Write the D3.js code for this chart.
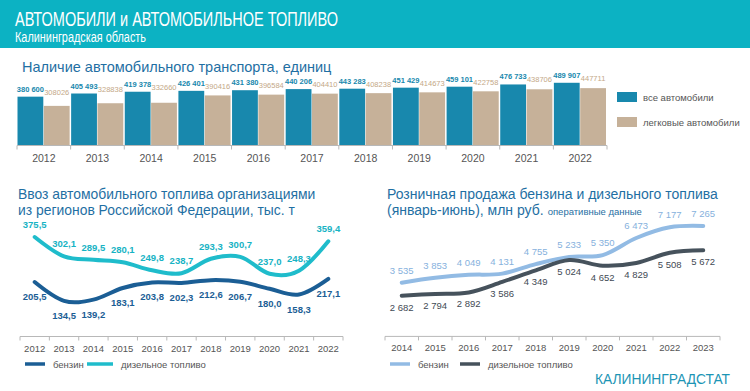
<!DOCTYPE html>
<html>
<head>
<meta charset="utf-8">
<script src="https://cdn.jsdelivr.net/npm/d3@7"></script>
<style>
  body { margin: 0; background: #fff; }
  svg { display: block; font-family: 'Liberation Sans', Arial, sans-serif; }
</style>
</head>
<body>
<svg width="750" height="391"></svg>
<script>
// --- data ---
const barYears = ['2012','2013','2014','2015','2016','2017','2018','2019','2020','2021','2022'];
const allCars = [380600, 405493, 419378, 426401, 431380, 440206, 443283, 451429, 459101, 476733, 489907];
const passengerCars = [308026, 328838, 332660, 390416, 396584, 404410, 408238, 414673, 422758, 438706, 447711];

const importYears = ['2012','2013','2014','2015','2016','2017','2018','2019','2020','2021','2022'];
const importPetrol = [205.5, 134.5, 139.2, 183.1, 203.8, 202.3, 212.6, 206.7, 180.0, 158.3, 217.1];
const importDiesel = [375.5, 302.1, 289.5, 280.1, 249.8, 238.7, 293.3, 300.7, 237.0, 248.3, 359.4];

const retailYears = ['2014','2015','2016','2017','2018','2019','2020','2021','2022','2023'];
const retailPetrol = [3535, 3853, 4049, 4131, 4755, 5233, 5350, 6473, 7177, 7265];
const retailDiesel = [2682, 2794, 2892, 3586, 4349, 5024, 4652, 4829, 5508, 5672];

const teal = '#0cb2c3';
const barBlue = '#1888ad';
const barBeige = '#c6b199';
const titleBlue = '#1f6fa3';
const axisGray = '#b8b8b8';
const textGray = '#555';

const svg = d3.select('svg');
const fmtSpace = v => d3.format(',')(v).replace(/,/g, ' ');
const fmtComma = v => v.toFixed(1).replace('.', ',');

// --- header ---
svg.append('rect').attr('x', 0).attr('y', 0).attr('width', 750).attr('height', 48).attr('fill', teal);
svg.append('text').attr('x', 15).attr('y', 26).attr('fill', '#fff').attr('font-size', 21)
   .attr('textLength', 323).attr('lengthAdjust', 'spacingAndGlyphs')
   .text('АВТОМОБИЛИ и АВТОМОБИЛЬНОЕ ТОПЛИВО');
svg.append('text').attr('x', 15).attr('y', 42).attr('fill', '#fff').attr('font-size', 14)
   .attr('textLength', 131).attr('lengthAdjust', 'spacingAndGlyphs')
   .text('Калининградская область');

// --- bar chart ---
svg.append('text').attr('x', 22).attr('y', 72).attr('fill', titleBlue).attr('font-size', 14.5)
   .text('Наличие автомобильного транспорта, единиц');

const xBar = d3.scaleBand().domain(barYears).range([17, 607]);
const xSub = d3.scaleBand().domain(['all', 'cars']).range([0.5, xBar.bandwidth() - 1]).paddingInner(0.02);
const yBar = d3.scaleLinear().domain([0, 500000]).range([145, 81.5]);

const barData = barYears.map((y, i) => ({ year: y, all: allCars[i], cars: passengerCars[i] }));
const groups = svg.append('g').selectAll('g').data(barData).enter().append('g')
   .attr('transform', d => `translate(${xBar(d.year)},0)`);

groups.append('rect')
   .attr('x', xSub('all')).attr('width', xSub.bandwidth())
   .attr('y', d => yBar(d.all)).attr('height', d => yBar(0) - yBar(d.all))
   .attr('fill', barBlue);
groups.append('rect')
   .attr('x', xSub('cars')).attr('width', xSub.bandwidth())
   .attr('y', d => yBar(d.cars)).attr('height', d => yBar(0) - yBar(d.cars))
   .attr('fill', barBeige);
groups.append('text')
   .attr('x', xSub('all') + xSub.bandwidth() / 2).attr('y', d => yBar(d.all) - 5)
   .attr('text-anchor', 'middle').attr('font-size', 7.5).attr('font-weight', 'bold')
   .attr('fill', barBlue).text(d => fmtSpace(d.all));
groups.append('text')
   .attr('x', xSub('cars') + xSub.bandwidth() / 2).attr('y', d => Math.min(yBar(d.cars) - 5, yBar(d.all) - 2))
   .attr('text-anchor', 'middle').attr('font-size', 7.5)
   .attr('fill', '#c4a887').text(d => d.cars);

const barAxis = svg.append('g').attr('transform', 'translate(0,145.5)');
barAxis.append('line').attr('x1', 17).attr('x2', 607).attr('stroke', axisGray);
barAxis.selectAll('line.tick').data(barYears.concat(['end'])).enter().append('line')
   .attr('x1', (d, i) => 17 + i * xBar.bandwidth()).attr('x2', (d, i) => 17 + i * xBar.bandwidth())
   .attr('y1', 0).attr('y2', 4).attr('stroke', axisGray);
barAxis.selectAll('text').data(barYears).enter().append('text')
   .attr('x', d => xBar(d) + xBar.bandwidth() / 2).attr('y', 16.5)
   .attr('text-anchor', 'middle').attr('font-size', 10.5).attr('fill', textGray).text(d => d);

// legend for bars
const barLegend = [['все автомобили', barBlue, 92], ['легковые автомобили', barBeige, 117]];
barLegend.forEach(([label, color, y]) => {
  svg.append('rect').attr('x', 617).attr('y', y).attr('width', 20).attr('height', 10).attr('fill', color);
  svg.append('text').attr('x', 643).attr('y', y + 8.5).attr('font-size', 9.5).attr('fill', textGray).text(label);
});

// --- generic smoothed line chart ---
function lineChart(opts) {
  const x = d3.scaleBand().domain(opts.years).range(opts.xRange);
  const y = d3.scaleLinear().domain(opts.yDomain).range(opts.yRange);
  const cx = d => x(d) + x.bandwidth() / 2;

  const axis = svg.append('g').attr('transform', `translate(0,${opts.yRange[0]})`);
  axis.append('line').attr('x1', opts.xRange[0]).attr('x2', opts.xRange[1]).attr('stroke', axisGray);
  axis.selectAll('line.tick').data(opts.years.concat(['end'])).enter().append('line')
     .attr('x1', (d, i) => opts.xRange[0] + i * x.bandwidth())
     .attr('x2', (d, i) => opts.xRange[0] + i * x.bandwidth())
     .attr('y1', 0).attr('y2', 4).attr('stroke', axisGray);
  axis.selectAll('text').data(opts.years).enter().append('text')
     .attr('x', cx).attr('y', 15).attr('text-anchor', 'middle')
     .attr('font-size', 9.5).attr('fill', textGray).text(d => d);

  const line = d3.line().x((d, i) => cx(opts.years[i])).y(d => y(d)).curve(d3.curveCardinal.tension(0));

  opts.series.forEach(s => {
    svg.append('path').datum(s.values).attr('d', line)
       .attr('fill', 'none').attr('stroke', s.color).attr('stroke-width', 4).attr('stroke-linecap', 'round');
    svg.append('g').selectAll('text').data(s.values).enter().append('text')
       .attr('x', (d, i) => cx(opts.years[i]))
       .attr('y', d => y(d) + s.labelDy)
       .attr('text-anchor', 'middle').attr('font-size', opts.labelSize)
       .attr('font-weight', opts.labelWeight)
       .attr('fill', s.labelColor || s.color).text(s.fmt);
  });

  opts.series.forEach(s => {
    svg.append('line').attr('x1', s.legend[0]).attr('x2', s.legend[1])
       .attr('y1', opts.legendY).attr('y2', opts.legendY)
       .attr('stroke', s.color).attr('stroke-width', 3.5);
    svg.append('text').attr('x', s.legend[1] + 8).attr('y', opts.legendY + 3.5)
       .attr('font-size', 9.5).attr('fill', textGray).text(s.name);
  });
}

// left chart: import of fuel
const leftTitle = svg.append('text').attr('fill', titleBlue).attr('font-size', 13.9);
leftTitle.append('tspan').attr('x', 18).attr('y', 199).text('Ввоз автомобильного топлива организациями');
leftTitle.append('tspan').attr('x', 18).attr('y', 215).text('из регионов Российской Федерации, тыс. т');

lineChart({
  years: importYears,
  xRange: [20, 343],
  yDomain: [0, 400],
  yRange: [336.5, 230.5],
  labelSize: 9.5,
  labelWeight: 'bold',
  legendY: 364,
  series: [
    { name: 'бензин', values: importPetrol, color: '#1b5e95', labelDy: 18, fmt: fmtComma, legend: [25, 45] },
    { name: 'дизельное топливо', values: importDiesel, color: '#1fbccb', labelColor: '#17b3c4', labelDy: -9, fmt: fmtComma, legend: [87, 113] }
  ]
});

// right chart: retail sales
const rightTitle = svg.append('text').attr('fill', titleBlue).attr('font-size', 14);
rightTitle.append('tspan').attr('x', 387).attr('y', 199).text('Розничная продажа бензина и дизельного топлива');
const rt2 = svg.append('text').attr('x', 387).attr('y', 215).attr('fill', titleBlue);
rt2.append('tspan').attr('font-size', 14).text('(январь-июнь), млн руб.');
rt2.append('tspan').attr('font-size', 9.5).attr('dx', 4).text('оперативные данные');

lineChart({
  years: retailYears,
  xRange: [385, 720],
  yDomain: [0, 8000],
  yRange: [336.4, 214.8],
  labelSize: 9.5,
  labelWeight: 'normal',
  legendY: 364,
  series: [
    { name: 'бензин', values: retailPetrol, color: '#92bbe4', labelColor: '#86b1dd', labelDy: -9, fmt: fmtSpace, legend: [390, 410] },
    { name: 'дизельное топливо', values: retailDiesel, color: '#46525c', labelColor: '#3f4a54', labelDy: 15, fmt: fmtSpace, legend: [460, 480] }
  ]
});

svg.append('text').attr('x', 595).attr('y', 384)
   .attr('font-size', 15).attr('fill', '#1c95b5')
   .attr('textLength', 135).attr('lengthAdjust', 'spacingAndGlyphs').text('КАЛИНИНГРАДСТАТ');
</script>
</body>
</html>
